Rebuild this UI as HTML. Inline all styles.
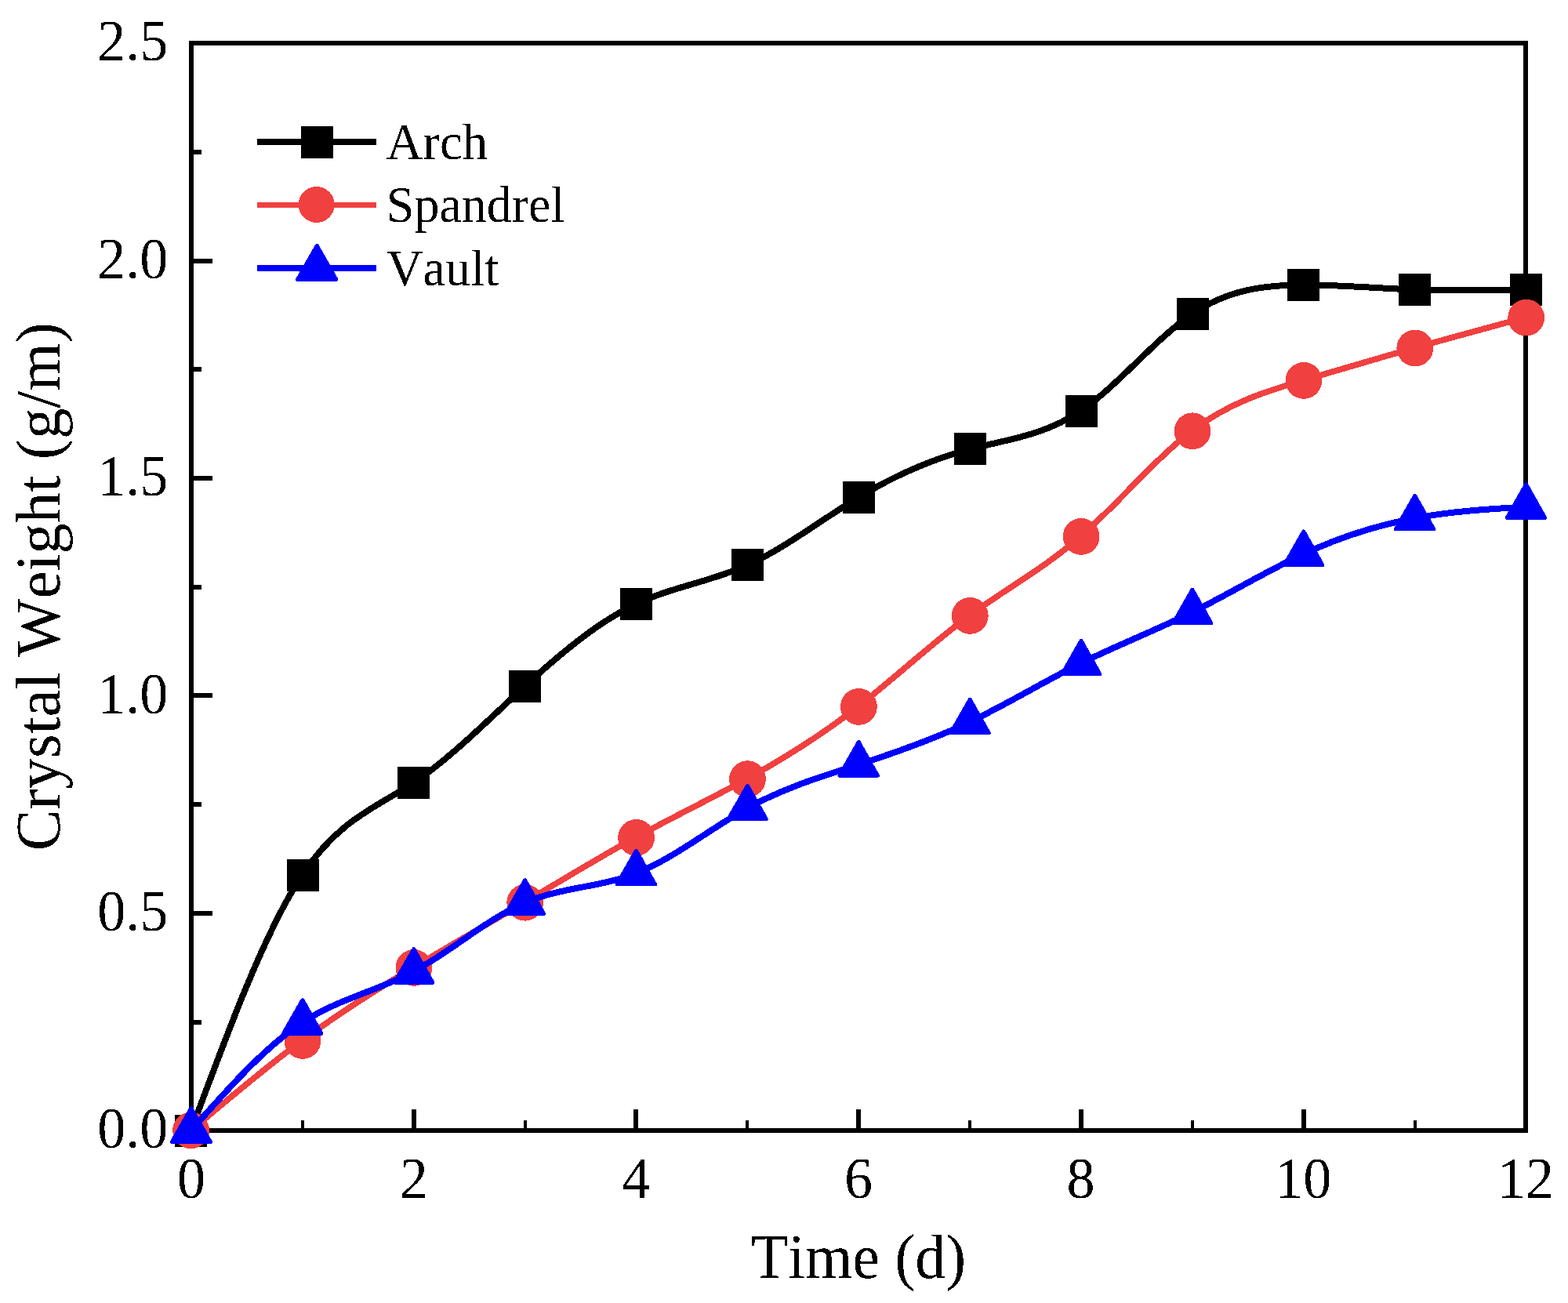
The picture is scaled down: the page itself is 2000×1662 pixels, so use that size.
<!DOCTYPE html>
<html lang="en"><head><meta charset="utf-8"><title>Crystal Weight vs Time</title>
<style>
html,body{margin:0;padding:0;background:#fff;}
body{width:2000px;height:1662px;overflow:hidden;}
svg{display:block;}
text{font-family:"Liberation Serif",serif;fill:#000;font-kerning:none;font-variant-ligatures:none;}
.tick{font-size:72px;}
.title{font-size:78.5px;}
.leg{font-size:65.5px;}
</style></head><body>
<svg width="2000" height="1662" viewBox="0 0 2000 1662" role="img" aria-label="Crystal weight versus time for Arch, Spandrel and Vault">
<defs><filter id="crisp" x="0" y="0" width="2000" height="1662" filterUnits="userSpaceOnUse" color-interpolation-filters="sRGB"><feComponentTransfer><feFuncA type="discrete" tableValues="0 1"/></feComponentTransfer></filter></defs>
<rect x="0" y="0" width="2000" height="1662" fill="#fff"/>
<g shape-rendering="crispEdges" fill="#000">
<rect x="241" y="52" width="6" height="1393"/>
<rect x="1943" y="52" width="6" height="1393"/>
<rect x="241" y="52" width="1708" height="6"/>
<rect x="241" y="1439" width="1708" height="6"/>
<rect x="241" y="1415" width="6" height="24"/>
<rect x="384" y="1429" width="4" height="10"/>
<rect x="525" y="1415" width="6" height="24"/>
<rect x="668" y="1429" width="4" height="10"/>
<rect x="808" y="1415" width="6" height="24"/>
<rect x="951" y="1429" width="4" height="10"/>
<rect x="1092" y="1415" width="6" height="24"/>
<rect x="1235" y="1429" width="4" height="10"/>
<rect x="1376" y="1415" width="6" height="24"/>
<rect x="1519" y="1429" width="4" height="10"/>
<rect x="1660" y="1415" width="6" height="24"/>
<rect x="1803" y="1429" width="4" height="10"/>
<rect x="1943" y="1415" width="6" height="24"/>
<rect x="247" y="1439" width="24" height="6"/>
<rect x="247" y="1301" width="10" height="6"/>
<rect x="247" y="1162" width="24" height="6"/>
<rect x="247" y="1023" width="10" height="6"/>
<rect x="247" y="884" width="24" height="6"/>
<rect x="247" y="746" width="10" height="6"/>
<rect x="247" y="607" width="24" height="6"/>
<rect x="247" y="468" width="10" height="6"/>
<rect x="247" y="330" width="24" height="6"/>
<rect x="247" y="191" width="10" height="6"/>
<rect x="247" y="52" width="24" height="6"/>
</g>
<g filter="url(#crisp)">
<g class="tick" text-anchor="end">
<text transform="translate(214.2 1464.4) scale(1 1.04)">0.0</text>
<text transform="translate(214.2 1187.0) scale(1 1.04)">0.5</text>
<text transform="translate(214.2 909.6) scale(1 1.04)">1.0</text>
<text transform="translate(214.2 632.2) scale(1 1.04)">1.5</text>
<text transform="translate(214.2 354.8) scale(1 1.04)">2.0</text>
<text transform="translate(214.2 77.4) scale(1 1.04)">2.5</text>
</g>
<g class="tick" text-anchor="middle">
<text transform="translate(244.0 1527.8) scale(1 1.04)">0</text>
<text transform="translate(527.7 1527.8) scale(1 1.04)">2</text>
<text transform="translate(811.3 1527.8) scale(1 1.04)">4</text>
<text transform="translate(1095.0 1527.8) scale(1 1.04)">6</text>
<text transform="translate(1378.6 1527.8) scale(1 1.04)">8</text>
<text transform="translate(1662.3 1527.8) scale(1 1.04)">10</text>
<text transform="translate(1946.0 1527.8) scale(1 1.04)">12</text>
</g>
<text class="title" text-anchor="middle" transform="translate(1095 1630) scale(0.99 1.02)">Time (d)</text>
<text class="title" text-anchor="middle" style="font-size:78.8px" transform="translate(76.2 748.3) rotate(-90) scale(1 1.02)">Crystal Weight (g/m)</text>
<g class="leg">
<text transform="translate(492.5 202.8) scale(0.991 1)">Arch</text>
<text transform="translate(492.8 283.2) scale(0.977 1)">Spandrel</text>
<text transform="translate(493 364.3) scale(0.983 1)">Vault</text>
</g>
</g>
<g fill="none" stroke-linejoin="round" stroke-linecap="butt" shape-rendering="crispEdges">
<path d="M243.60 1442.50 C290.89 1314.87 338.19 1187.23 385.48 1116.00 C432.77 1044.77 480.07 1029.93 527.36 998.50 C574.65 967.07 621.95 919.03 669.24 875.50 C716.53 831.97 763.83 792.93 811.12 770.50 C858.41 748.07 905.71 742.25 953.00 721.00 C1000.29 699.75 1047.59 663.06 1094.88 634.50 C1142.17 605.94 1189.47 585.49 1236.76 573.00 C1284.05 560.51 1331.35 555.98 1378.64 524.00 C1425.93 492.02 1473.23 432.59 1520.52 400.50 C1567.81 368.41 1615.11 363.67 1662.40 363.50 C1709.69 363.33 1756.99 367.74 1804.28 369.50 C1851.57 371.26 1898.87 370.38 1946.16 369.50" stroke="#000" stroke-width="8"/>
<g fill="#000"><rect x="223" y="1422" width="41" height="41"/><rect x="366" y="1096" width="41" height="41"/><rect x="507" y="978" width="41" height="41"/><rect x="649" y="855" width="41" height="41"/><rect x="791" y="750" width="41" height="41"/><rect x="933" y="700" width="41" height="41"/><rect x="1075" y="614" width="41" height="41"/><rect x="1217" y="552" width="41" height="41"/><rect x="1359" y="504" width="41" height="41"/><rect x="1501" y="380" width="41" height="41"/><rect x="1642" y="343" width="41" height="41"/><rect x="1784" y="349" width="41" height="41"/><rect x="1926" y="349" width="41" height="41"/></g>
<path d="M243.60 1442.00 C290.89 1401.95 338.19 1361.90 385.48 1327.00 C432.77 1292.10 480.07 1262.35 527.36 1234.00 C574.65 1205.65 621.95 1178.70 669.24 1150.75 C716.53 1122.80 763.83 1093.86 811.12 1068.00 C858.41 1042.14 905.71 1019.37 953.00 993.30 C1000.29 967.23 1047.59 937.88 1094.88 901.00 C1142.17 864.12 1189.47 819.72 1236.76 785.00 C1284.05 750.28 1331.35 725.24 1378.64 684.00 C1425.93 642.76 1473.23 585.30 1520.52 549.40 C1567.81 513.50 1615.11 499.14 1662.40 485.00 C1709.69 470.86 1756.99 456.94 1804.28 443.60 C1851.57 430.26 1898.87 417.51 1946.16 404.75" stroke="#f14040" stroke-width="7.7"/>
<g fill="#f14040"><circle cx="243.6" cy="1441.8" r="23.4"/><circle cx="386.0" cy="1327.4" r="23.4"/><circle cx="527.9" cy="1234.4" r="23.4"/><circle cx="669.7" cy="1151.2" r="23.4"/><circle cx="811.6" cy="1068.4" r="23.4"/><circle cx="953.5" cy="993.7" r="23.4"/><circle cx="1095.4" cy="901.4" r="23.4"/><circle cx="1237.3" cy="785.4" r="23.4"/><circle cx="1379.1" cy="684.4" r="23.4"/><circle cx="1521.0" cy="549.8" r="23.4"/><circle cx="1662.9" cy="485.4" r="23.4"/><circle cx="1804.8" cy="444.0" r="23.4"/><circle cx="1946.7" cy="405.1" r="23.4"/></g>
<path d="M243.60 1442.00 C290.89 1388.65 338.19 1335.30 385.48 1304.30 C432.77 1273.30 480.07 1264.66 527.36 1239.30 C574.65 1213.94 621.95 1171.87 669.24 1151.50 C716.53 1131.13 763.83 1132.47 811.12 1114.00 C858.41 1095.53 905.71 1057.24 953.00 1031.00 C1000.29 1004.76 1047.59 990.58 1094.88 975.30 C1142.17 960.02 1189.47 943.64 1236.76 921.00 C1284.05 898.36 1331.35 869.47 1378.64 846.00 C1425.93 822.53 1473.23 804.47 1520.52 781.00 C1567.81 757.53 1615.11 728.66 1662.40 706.75 C1709.69 684.84 1756.99 669.88 1804.28 661.00 C1851.57 652.12 1898.87 649.31 1946.16 646.50" stroke="#0000ff" stroke-width="8"/>
<g fill="#0000ff" stroke="#0000ff" stroke-width="5"><path d="M243.9 1413.6 L219.3 1456.6 L268.5 1456.6 Z"/><path d="M385.9 1275.6 L361.5 1318.2 L409.9 1318.2 Z"/><path d="M527.8 1210.6 L503.4 1253.2 L551.8 1253.2 Z"/><path d="M669.6 1122.8 L645.2 1165.4 L693.6 1165.4 Z"/><path d="M811.5 1085.3 L787.1 1127.9 L835.5 1127.9 Z"/><path d="M953.4 1002.3 L929.0 1044.9 L977.4 1044.9 Z"/><path d="M1095.3 946.6 L1070.9 989.2 L1119.3 989.2 Z"/><path d="M1237.2 892.3 L1212.8 934.9 L1261.2 934.9 Z"/><path d="M1379.0 817.3 L1354.6 859.9 L1403.0 859.9 Z"/><path d="M1520.9 752.3 L1496.5 794.9 L1544.9 794.9 Z"/><path d="M1662.8 678.0 L1638.4 720.6 L1686.8 720.6 Z"/><path d="M1804.7 632.3 L1780.3 674.9 L1828.7 674.9 Z"/><path d="M1946.6 617.8 L1922.2 660.4 L1970.6 660.4 Z"/></g>
</g>
<g shape-rendering="crispEdges">
<rect x="328" y="177" width="152" height="8" fill="#000"/>
<rect x="384" y="161" width="41" height="41" fill="#000"/>
<rect x="328" y="258" width="152" height="7" fill="#f14040"/>
<circle cx="403.7" cy="261" r="23" fill="#f14040"/>
<rect x="328" y="338" width="152" height="8" fill="#0000ff"/>
<path d="M404.2 313.4 L379.6 356.4 L428.8 356.4 Z" fill="#0000ff" stroke="#0000ff" stroke-width="5" stroke-linejoin="round"/>
</g>
</svg></body></html>
